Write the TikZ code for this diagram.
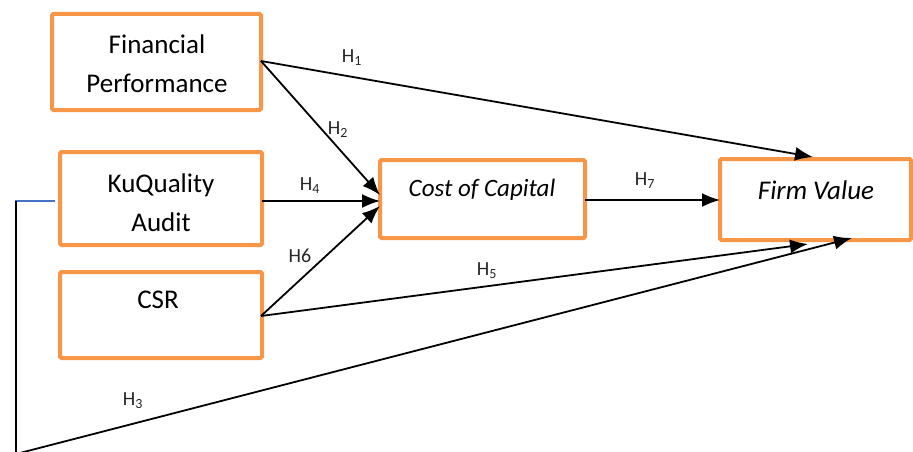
\documentclass[tikz,border=0pt]{standalone}
\usepackage{fontspec}
\setmainfont{Carlito}
\usetikzlibrary{arrows.meta}
\definecolor{boxorange}{HTML}{F79646}
\definecolor{lineblue}{HTML}{4472C4}
\definecolor{labelgray}{HTML}{262626}
\tikzset{
  varbox/.style={draw=boxorange, line width=4pt, rounded corners=1.5pt, fill=white, inner sep=0pt},
  boxtext/.style={font=\fontsize{27}{39}\selectfont, align=center, inner sep=0pt, text=black},
  itbox/.style={font=\fontsize{25}{30}\selectfont\itshape, inner sep=0pt, text=black},
  fvtext/.style={font=\fontsize{27}{30}\selectfont\itshape, inner sep=0pt, text=black},
  hlabel/.style={font=\fontsize{20}{22}\selectfont, text=labelgray, inner sep=0pt},
  path/.style={draw=black, line width=1.8pt, -{Latex[length=18pt,width=14pt]}},
  plain/.style={draw=black, line width=1.8pt}
}
\begin{document}
\begin{tikzpicture}[x=1pt,y=-1pt]
\useasboundingbox (0,0) rectangle (913,452);
% boxes
\node[varbox, minimum width=209pt, minimum height=96pt] (fp) at (156.5,62) {};
\node[varbox, minimum width=202pt, minimum height=93pt] (kq) at (161,198.5) {};
\node[varbox, minimum width=202pt, minimum height=86pt] (csr) at (161,315) {};
\node[varbox, minimum width=205pt, minimum height=78pt] (coc) at (482.5,199) {};
\node[varbox, minimum width=191pt, minimum height=81pt] (fv) at (815.5,199.5) {};
% texts
\node[boxtext] (fpT) at (157,63.5) {Financial\\Performance};
\node[boxtext] (kqT) at (161,203) {KuQuality\\Audit};
\node[boxtext] (csrT) at (158,300) {CSR};
\node[itbox] (cocT) at (482,190) {Cost of Capital};
\node[fvtext] (fvT) at (816,190) {Firm Value};
% coordinates
\coordinate (fpR) at (261,61);
\coordinate (kqR) at (262,201);
\coordinate (csrR) at (261,316);
\coordinate (cocL1) at (380,195);
\coordinate (cocL2) at (380,201);
\coordinate (cocL3) at (380,206);
\coordinate (cocR) at (585,200);
\coordinate (fvL) at (720,200);
\coordinate (fvT1) at (813,157);
\coordinate (fvB1) at (808,244);
\coordinate (fvB2) at (852,238);
\coordinate (bl1) at (15,201);
\coordinate (bl2) at (55,201);
\coordinate (vtop) at (16,201);
\coordinate (vbot) at (16,454);
% connectors
\draw[path] (fpR) -- (fvT1);
\draw[path] (fpR) -- (cocL1);
\draw[path] (kqR) -- (cocL2);
\draw[path] (csrR) -- (cocL3);
\draw[path] (cocR) -- (fvL);
\draw[path] (csrR) -- (fvB1);
\draw[draw=lineblue, line width=1.5pt] (bl1) -- (bl2);
\draw[plain] (vtop) -- (vbot);
\draw[path] (vbot) -- (fvB2);
% labels
\node[hlabel] (h1) at (352,58) {H\textsubscript{1}};
\node[hlabel] (h2) at (338,130) {H\textsubscript{2}};
\node[hlabel] (h4) at (310,186) {H\textsubscript{4}};
\node[hlabel] (h6) at (300,256) {H6};
\node[hlabel] (h7) at (645,181) {H\textsubscript{7}};
\node[hlabel] (h5) at (487,271) {H\textsubscript{5}};
\node[hlabel] (h3) at (133,401) {H\textsubscript{3}};
\end{tikzpicture}
\end{document}
